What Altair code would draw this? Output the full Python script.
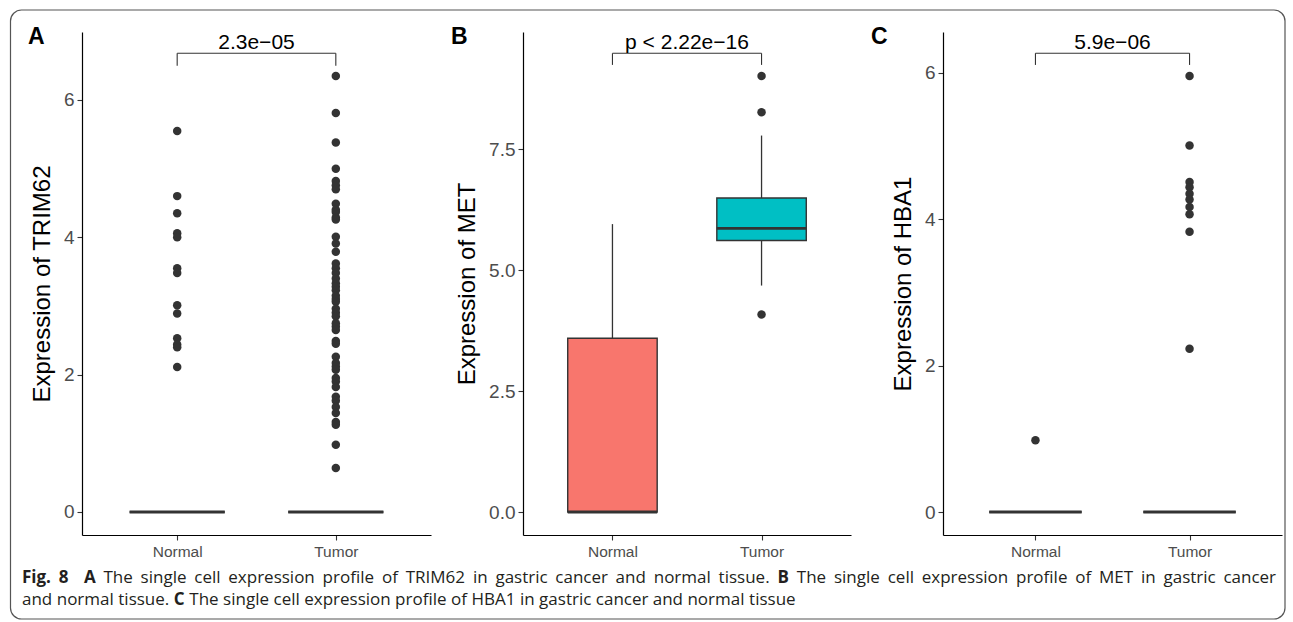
import altair as alt
import pandas as pd

# ---------------- data ----------------
categories = ["Normal", "Tumor"]
box_colors = ["#F8766D", "#00BFC4"]

# Panel A : TRIM62
a_q1 = [0.0, 0.0]
a_median = [0.0, 0.0]
a_q3 = [0.0, 0.0]
a_lower = [0.0, 0.0]
a_upper = [0.0, 0.0]
a_normal_points = [5.55, 4.60, 4.35, 4.06, 4.00, 3.55, 3.48, 3.01, 2.89, 2.53, 2.44, 2.40, 2.11]
a_tumor_points = [6.35, 5.81, 5.38, 5.00, 4.82, 4.76, 4.70, 4.49, 4.40, 4.37, 4.29, 4.26,
                  4.01, 3.91, 3.79, 3.62, 3.55, 3.48, 3.40, 3.33, 3.28, 3.23, 3.15, 3.10,
                  3.06, 2.96, 2.90, 2.85, 2.75, 2.70, 2.65, 2.49, 2.45, 2.26, 2.17, 2.12,
                  2.07, 1.95, 1.90, 1.82, 1.68, 1.62, 1.53, 1.44, 1.31, 1.27, 0.98, 0.64]
a_bracket = [6.68, 6.50]
a_pvalue = "2.3e\u221205"

# Panel B : MET
b_q1 = [0.0, 5.61]
b_median = [0.0, 5.86]
b_q3 = [3.59, 6.49]
b_lower = [0.0, 4.68]
b_upper = [5.95, 7.78]
b_normal_points = []
b_tumor_points = [9.01, 8.26, 4.08]
b_bracket = [9.48, 9.24]
b_pvalue = "p < 2.22e\u221216"

# Panel C : HBA1
c_q1 = [0.0, 0.0]
c_median = [0.0, 0.0]
c_q3 = [0.0, 0.0]
c_lower = [0.0, 0.0]
c_upper = [0.0, 0.0]
c_normal_points = [0.98]
c_tumor_points = [5.96, 5.01, 4.51, 4.44, 4.35, 4.27, 4.17, 4.07, 3.83, 2.23]
c_bracket = [6.27, 6.11]
c_pvalue = "5.9e\u221206"

caption_line1 = [("Fig. 8", "bold"), ("A", "bold"),
                 ("The single cell expression profile of TRIM62 in gastric cancer and normal tissue.", "normal"),
                 ("B", "bold"),
                 ("The single cell expression profile of MET in gastric cancer", "normal")]
caption_line2 = [("and normal tissue.", "normal"), ("C", "bold"),
                 ("The single cell expression profile of HBA1 in gastric cancer and normal tissue", "normal")]

# ---------------- layout constants ----------------
BOX_HALF = 0.3
PANEL_H = 503
AXIS_FONT = "Liberation Sans"
CAP_FONT = "Open Sans"
CAP_SIZE = 17
ONE = pd.DataFrame({"k": [0]})

# approximate Open Sans advance widths (units of 1/2048 em) used only for caption typesetting
OS_REG = dict(zip(" .0123456789", [532, 545] + [1171] * 10))
OS_REG.update(dict(A=1296, B=1327, C=1292, E=1139, H=1511, I=571, M=1849, R=1266, T=1133,
                   a=1139, b=1255, c=975, d=1255, e=1149, f=694, g=1122, h=1257, i=518, l=518,
                   m=1905, n=1257, o=1237, p=1255, r=836, s=977, t=723, u=1257, x=1073))
OS_BOLD = dict(zip(" .0123456789", [532, 584] + [1171] * 10))
OS_BOLD.update(dict(A=1411, B=1403, C=1339, F=1171, i=614, g=1126))


def word_width(w, weight):
    table = OS_BOLD if weight == "bold" else OS_REG
    return sum(table.get(ch, 1150) for ch in w) / 2048 * CAP_SIZE


def tokens(segments):
    out = []
    for si, (text, weight) in enumerate(segments):
        for wi, w in enumerate(text.split(" ")):
            gap = 0 if not out else (2 if (wi == 0 and si == 1 and segments[0][0].startswith("Fig")) else 1)
            out.append((w, weight, gap))
    return out


def place(segments, x0, x1=None):
    toks = tokens(segments)
    space = 532 / 2048 * CAP_SIZE
    widths = [word_width(w, wt) for w, wt, _ in toks]
    units = sum(g for _, _, g in toks)
    natural = sum(widths) + units * space
    gap_unit = space if x1 is None else space + (x1 - x0 - natural) / units
    res, x = [], x0
    for (w, wt, g), wd in zip(toks, widths):
        x += g * gap_unit
        res.append((w, wt, x))
        x += wd
    return res


def panel(q1, med, q3, lo, hi, normal_pts, tumor_pts, bracket, ptext,
          ydomain, yticks, yfmt, ytitle, letter, letter_dx, width, extras=()):
    pos = [i + 1 for i in range(len(categories))]
    stats = pd.DataFrame({"cat": categories, "pos": pos, "q1": q1, "med": med,
                          "q3": q3, "lo": lo, "hi": hi})
    stats["xl"] = stats["pos"] - BOX_HALF
    stats["xr"] = stats["pos"] + BOX_HALF
    pts = pd.DataFrame(
        [{"pos": 1, "value": v} for v in normal_pts] + [{"pos": 2, "value": v} for v in tumor_pts]
    )
    br = pd.DataFrame({"x1": [1], "x2": [2], "xm": [1.5], "y": [bracket[0]], "label": [ptext]})
    legs = pd.DataFrame({"pos": [1, 2], "ylo": [bracket[1]] * 2, "yhi": [bracket[0]] * 2})

    xscale = alt.Scale(domain=[0.4, 2.6], nice=False, zero=False)
    lab = "[" + ",".join("'" + c + "'" for c in categories) + "][datum.value - 1]"
    xaxis = alt.Axis(values=pos, labelExpr=lab, title=None)
    yscale = alt.Scale(domain=ydomain, nice=False, zero=False)
    yaxis = alt.Axis(values=yticks, format=yfmt, title=ytitle, titlePadding=9)

    def X(f):
        return alt.X(f, type="quantitative", scale=xscale, axis=xaxis)

    def Y(f):
        return alt.Y(f, type="quantitative", scale=yscale, axis=yaxis)

    base = alt.Chart(stats)
    w_up = base.mark_rule(color="#333333", strokeWidth=1.3).encode(x=X("pos"), y=Y("q3"), y2="hi")
    w_lo = base.mark_rule(color="#333333", strokeWidth=1.3).encode(x=X("pos"), y=Y("lo"), y2="q1")
    box = base.mark_rect(stroke="#333333", strokeWidth=1.4).encode(
        x=X("xl"), x2="xr", y=Y("q1"), y2="q3",
        fill=alt.Fill("cat:N", scale=alt.Scale(domain=categories, range=box_colors), legend=None))
    medl = base.mark_rule(color="#333333", strokeWidth=2.8).encode(x=X("xl"), x2="xr", y=Y("med"))
    layers = [w_up, w_lo, box, medl]
    if len(pts):
        layers.append(alt.Chart(pts).mark_circle(size=72, color="#333333", opacity=1).encode(
            x=X("pos"), y=Y("value")))
    layers.append(alt.Chart(br).mark_rule(color="#333333", strokeWidth=1.1).encode(
        x=X("x1"), x2="x2", y=Y("y")))
    layers.append(alt.Chart(legs).mark_rule(color="#333333", strokeWidth=1.1).encode(
        x=X("pos"), y=Y("ylo"), y2="yhi"))
    layers.append(alt.Chart(br).mark_text(font=AXIS_FONT, fontSize=21, color="black",
                                          baseline="alphabetic", dy=-4).encode(
        x=X("xm"), y=Y("y"), text="label:N"))
    layers.append(alt.Chart(ONE).mark_text(text=letter, font=AXIS_FONT, fontSize=23,
                                           fontWeight="bold", color="black", align="left",
                                           baseline="alphabetic").encode(
        x=alt.value(letter_dx), y=alt.value(12)))
    layers.extend(extras)
    return alt.layer(*layers).properties(width=width, height=PANEL_H)


# frame + caption (drawn inside panel A's coordinate space)
frame = alt.Chart(ONE).mark_rect(filled=False, stroke="#555555", strokeWidth=1.2,
                                 cornerRadius=11).encode(
    x=alt.value(-71.5), x2=alt.value(1203), y=alt.value(-22), y2=alt.value(587))


def cap(word, weight, x, y):
    return alt.Chart(ONE).mark_text(text=word, font=CAP_FONT, fontSize=CAP_SIZE, fontWeight=weight,
                                    color="#231F20", align="left", baseline="alphabetic").encode(
        x=alt.value(round(x, 1)), y=alt.value(y))


caption = [cap(w, wt, x, 551) for w, wt, x in place(caption_line1, -60, 1194)] + \
          [cap(w, wt, x, 573) for w, wt, x in place(caption_line2, -60)]

pA = panel(a_q1, a_median, a_q3, a_lower, a_upper, a_normal_points, a_tumor_points,
           a_bracket, a_pvalue, [-0.335, 6.99], [0, 2, 4, 6], ".0f", "Expression of TRIM62",
           "A", -54, 349, extras=[frame] + caption)
pB = panel(b_q1, b_median, b_q3, b_lower, b_upper, b_normal_points, b_tumor_points,
           b_bracket, b_pvalue, [-0.475, 9.92], [0, 2.5, 5, 7.5], ".1f", "Expression of MET",
           "B", -72, 328)
pC = panel(c_q1, c_median, c_q3, c_lower, c_upper, c_normal_points, c_tumor_points,
           c_bracket, c_pvalue, [-0.314, 6.56], [0, 2, 4, 6], ".0f", "Expression of HBA1",
           "C", -72, 339)

chart = alt.hconcat(pA, pB, pC, spacing=92, bounds="flush").properties(
    padding={"left": 9, "top": 9, "right": 0, "bottom": 0}, background="white"
).configure_axis(
    grid=False, domainColor="black", domainWidth=1.2, tickColor="#333333", tickSize=5,
    tickWidth=1.1, labelColor="#4D4D4D", labelFont=AXIS_FONT, titleFont=AXIS_FONT,
    titleFontSize=24, titleFontWeight="normal", titleColor="black"
).configure_axisY(labelFontSize=19, labelPadding=3).configure_axisX(
    labelFontSize=15.5, labelPadding=4
).configure_view(strokeWidth=0)

chart.save("out.html", embed_options={"renderer": "svg", "actions": False})
